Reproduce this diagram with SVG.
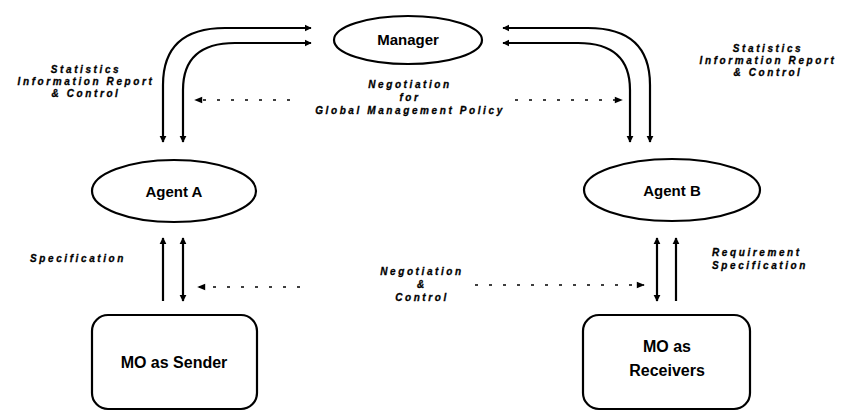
<svg xmlns="http://www.w3.org/2000/svg" width="848" height="413" viewBox="0 0 848 413">
<style>
.node{fill:#fff;stroke:#000;stroke-width:2.2}
.nt{font-family:"Liberation Sans",Arial,sans-serif;font-weight:bold;font-size:15px;text-anchor:middle;fill:#000}
.lb{font-family:"Liberation Sans",Arial,sans-serif;font-weight:bold;font-style:italic;font-size:10px;letter-spacing:2.6px;fill:#000;stroke:#000;stroke-width:0.3}
.c{text-anchor:middle}
.ln{fill:none;stroke:#000;stroke-width:2.2}
.dt{fill:none;stroke:#000;stroke-width:1.6;stroke-dasharray:3 11}
</style>
<defs>
<marker id="ah" viewBox="0 0 10 10" refX="9" refY="5" markerWidth="3.2" markerHeight="3.2" orient="auto-start-reverse" markerUnits="strokeWidth">
<path d="M0,0 L10,5 L0,10 z" fill="#000"/>
</marker>
<marker id="dh" viewBox="0 0 10 10" refX="9" refY="5" markerWidth="6" markerHeight="5" orient="auto-start-reverse" markerUnits="strokeWidth">
<path d="M0,1 L10,5 L0,9 z" fill="#000"/>
</marker>
</defs>
<rect width="848" height="413" fill="#fff"/>
<g id="connectors">
<path class="ln" d="M163,142 V85 Q163,28 225,28 H311" marker-end="url(#ah)" marker-start="url(#ah)"/>
<path class="ln" d="M183,142 V90 Q183,43 235,43 H311" marker-end="url(#ah)" marker-start="url(#ah)"/>
<path class="ln" d="M650,142 V85 Q650,28 588,28 H503" marker-end="url(#ah)" marker-start="url(#ah)"/>
<path class="ln" d="M630,142 V90 Q630,43 578,43 H503" marker-end="url(#ah)" marker-start="url(#ah)"/>
<path class="dt" d="M290,100 H195" marker-end="url(#dh)"/>
<path class="dt" d="M515,100 H622" marker-end="url(#dh)"/>
<path class="ln" d="M163,301 V238" marker-end="url(#ah)"/>
<path class="ln" d="M183,238 V301" marker-end="url(#ah)" marker-start="url(#ah)"/>
<path class="ln" d="M676,301 V238" marker-end="url(#ah)"/>
<path class="ln" d="M657,238 V301" marker-end="url(#ah)" marker-start="url(#ah)"/>
<path class="dt" d="M300,287 H198" marker-end="url(#dh)"/>
<path class="dt" d="M475,285 H644" marker-end="url(#dh)"/>
</g>
<g id="manager">
<ellipse class="node" cx="408" cy="40" rx="74" ry="24"/>
<text class="nt" x="408" y="45">Manager</text>
</g>
<g id="agentA">
<ellipse class="node" cx="174" cy="191" rx="82" ry="31"/>
<text class="nt" x="174" y="197">Agent A</text>
</g>
<g id="agentB">
<ellipse class="node" cx="672" cy="190" rx="88" ry="31"/>
<text class="nt" x="672" y="196">Agent B</text>
</g>
<g id="moSender">
<rect class="node" x="92" y="315" width="165" height="94" rx="16"/>
<text class="nt" x="174" y="368" style="font-size:16px">MO as Sender</text>
</g>
<g id="moReceivers">
<rect class="node" x="583" y="315" width="167" height="94" rx="16"/>
<text class="nt" x="667" y="352" style="font-size:16px">MO as</text>
<text class="nt" x="667" y="376" style="font-size:16px">Receivers</text>
</g>
<g id="labels">
<text class="lb c" x="86" y="73">Statistics</text>
<text class="lb c" x="86" y="85">Information Report</text>
<text class="lb c" x="86" y="97">&amp; Control</text>
<text class="lb c" x="768" y="52">Statistics</text>
<text class="lb c" x="768" y="64">Information Report</text>
<text class="lb c" x="768" y="76">&amp; Control</text>
<text class="lb c" x="410" y="88">Negotiation</text>
<text class="lb c" x="410" y="101">for</text>
<text class="lb c" x="410" y="114">Global Management Policy</text>
<text class="lb" x="30" y="262">Specification</text>
<text class="lb" x="712" y="256">Requirement</text>
<text class="lb" x="712" y="269">Specification</text>
<text class="lb c" x="422" y="275">Negotiation</text>
<text class="lb c" x="422" y="288">&amp;</text>
<text class="lb c" x="422" y="301">Control</text>
</g>
</svg>
